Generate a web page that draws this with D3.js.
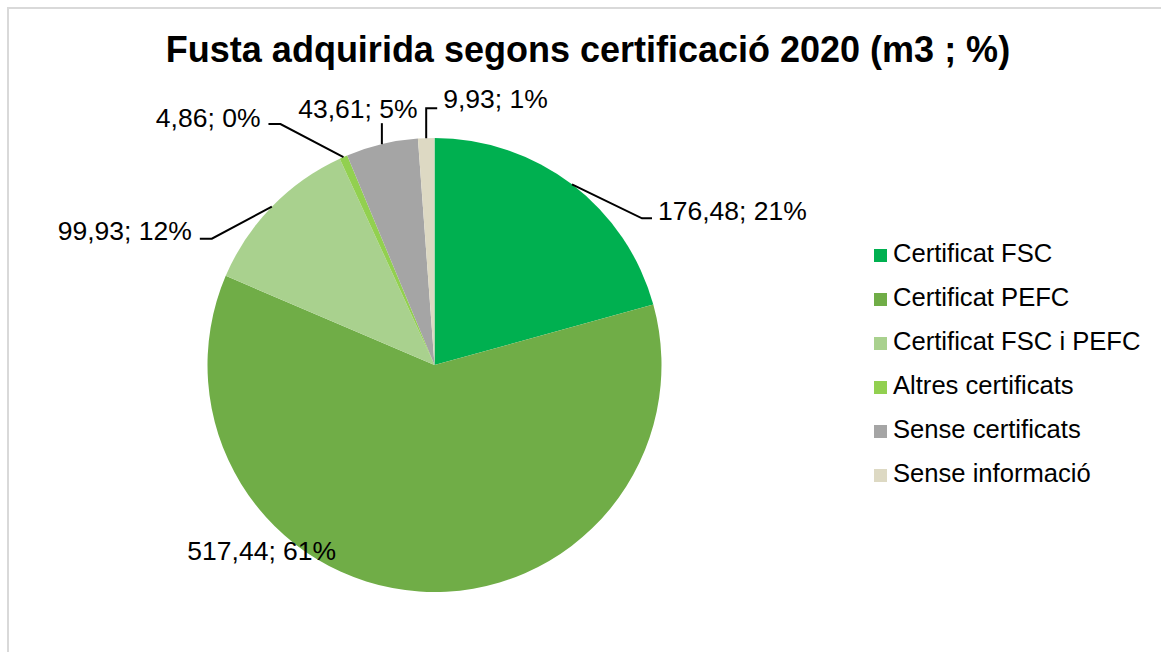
<!DOCTYPE html>
<html>
<head>
<meta charset="utf-8">
<script src="https://cdn.jsdelivr.net/npm/d3@7"></script>
<style>
  body { margin: 0; background: #fff; }
  text { font-family: "Liberation Sans", Arial, sans-serif; fill: #000; }
</style>
</head>
<body>
<div id="chart"></div>
<script>
// data
var categories = ["Certificat FSC", "Certificat PEFC", "Certificat FSC i PEFC",
                  "Altres certificats", "Sense certificats", "Sense informació"];
var volumes = [176.48, 517.44, 99.93, 4.86, 43.61, 9.93];
var percentLabels = ["21%", "61%", "12%", "0%", "5%", "1%"];
var sliceColors = ["#00B050", "#70AD47", "#A9D18E", "#92D050", "#A5A5A5", "#DDD9C3"];

var width = 1161, height = 652;
var cx = 434.5, cy = 365, radius = 227;

// where each label sits relative to the point on the rim at its slice middle
// [dx, dy, anchor, leader points relative to the text anchor]
var labelPlacement = [
  [86, 36, "start", [[-16, -2], [-6, -2]]],
  [-232, -31, "start", null],
  [-80, 33, "end", [[20, -1], [8, -1]]],
  [-83, -30, "end", [[20, -3], [8, -3]]],
  [-24, -26, "middle", [[24, 5]]],
  [17, -30, "start", [[-16, 0], [-6, 0]]]
];

var svg = d3.select("#chart").append("svg")
  .attr("width", width)
  .attr("height", height);

svg.append("rect").attr("width", width).attr("height", height).attr("fill", "#fff");

// light frame on the top and left
svg.append("path")
  .attr("d", "M8," + height + " L8,8 L" + width + ",8")
  .attr("fill", "none")
  .attr("stroke", "#d9d9d9")
  .attr("stroke-width", 2);

svg.append("text")
  .attr("x", 588)
  .attr("y", 62)
  .attr("text-anchor", "middle")
  .style("font-size", "36px")
  .style("font-weight", "bold")
  .text("Fusta adquirida segons certificació 2020 (m3 ; %)");

var pie = d3.pie().sort(null).value(function (d) { return d; });
var arcs = pie(volumes);
var arc = d3.arc().innerRadius(0).outerRadius(radius);

var g = svg.append("g").attr("transform", "translate(" + cx + "," + cy + ")");

g.selectAll("path.slice")
  .data(arcs)
  .enter()
  .append("path")
  .attr("class", "slice")
  .attr("d", arc)
  .attr("fill", function (d, i) { return sliceColors[i]; });

function fmt(v) {
  return d3.format(".2f")(v).replace(".", ",");
}

// labels + leader lines
arcs.forEach(function (d, i) {
  var mid = (d.startAngle + d.endAngle) / 2;
  var ax = Math.sin(mid) * radius;
  var ay = -Math.cos(mid) * radius;
  var p = labelPlacement[i];
  var tx = ax + p[0], ty = ay + p[1];

  if (p[3]) {
    var pts = [[ax, ay]].concat(p[3].map(function (q) { return [tx + q[0], ty + q[1]]; }));
    // vertical leader goes straight up from the rim
    if (p[3].length === 1) pts[1][0] = ax;
    // elbow that starts vertically
    if (i === 5) pts[1][0] = ax;
    g.append("path")
      .attr("d", d3.line()(pts))
      .attr("fill", "none")
      .attr("stroke", "#000")
      .attr("stroke-width", 2);
  }

  g.append("text")
    .attr("x", tx)
    .attr("y", ty)
    .attr("text-anchor", p[2])
    .style("font-size", "26.5px")
    .text(fmt(volumes[i]) + "; " + percentLabels[i]);
});

// legend
var legendY = d3.scalePoint().domain(categories).range([262, 482]);
var legend = svg.append("g");
var rows = legend.selectAll("g")
  .data(categories)
  .enter()
  .append("g")
  .attr("transform", function (d) { return "translate(874," + legendY(d) + ")"; });

rows.append("rect")
  .attr("x", 0)
  .attr("y", -13)
  .attr("width", 13)
  .attr("height", 13)
  .attr("fill", function (d, i) { return sliceColors[i]; });

rows.append("text")
  .attr("x", 19)
  .attr("y", 0)
  .style("font-size", "25.6px")
  .text(function (d) { return d; });
</script>
</body>
</html>
